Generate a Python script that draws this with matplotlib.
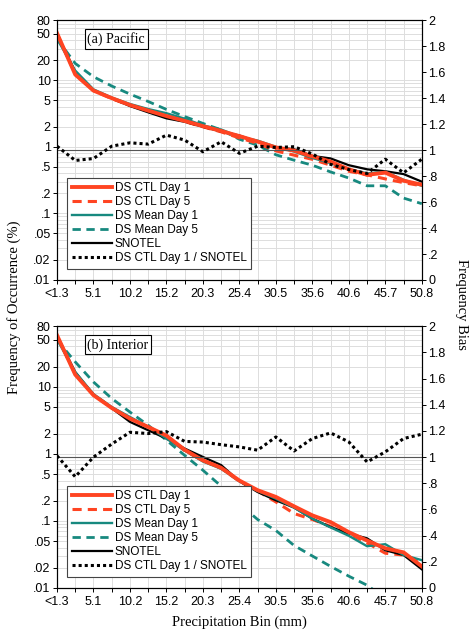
import numpy as np
import matplotlib
matplotlib.use('Agg')
import matplotlib.pyplot as plt

# precipitation bins (0.1 inch steps), labels on every other bin
bin_labels = ['<1.3', '', '5.1', '', '10.2', '', '15.2', '', '20.3', '', '25.4',
              '', '30.5', '', '35.6', '', '40.6', '', '45.7', '', '50.8']

# (a) Pacific, frequency of occurrence (%)
pac_ctl1 = [51, 12.2, 7.0, 5.4, 4.25, 3.5, 2.9, 2.45, 2.05, 1.73, 1.45,
            1.2, 0.98, 0.88, 0.72, 0.6, 0.46, 0.38, 0.41, 0.31, 0.27]
pac_ctl5 = [50, 12.5, 7.0, 5.3, 4.2, 3.45, 2.85, 2.4, 2.0, 1.68, 1.36,
            1.13, 0.87, 0.75, 0.65, 0.53, 0.43, 0.38, 0.33, 0.29, 0.26]
pac_mean1 = [42, 14, 7.3, 5.5, 4.4, 3.7, 3.2, 2.65, 2.1, 1.82, 1.42,
             1.24, 1.0, 0.85, 0.68, 0.57, 0.46, 0.40, 0.42, 0.32, 0.26]
pac_mean5 = [42, 17.9, 11.3, 8.2, 6.2, 4.8, 3.65, 2.85, 2.25, 1.8, 1.3,
             1.06, 0.76, 0.63, 0.53, 0.42, 0.34, 0.26, 0.26, 0.17, 0.14]
pac_snotel = [50, 13.4, 7.1, 5.35, 4.1, 3.3, 2.68, 2.38, 2.0, 1.7, 1.48,
              1.19, 0.98, 0.92, 0.73, 0.67, 0.53, 0.46, 0.43, 0.39, 0.30]
pac_ratio = [1.03, 0.92, 0.935, 1.03, 1.056, 1.046, 1.115, 1.077, 0.987, 1.064, 0.975,
             1.03, 1.02, 1.026, 0.97, 0.89, 0.85, 0.82, 0.93, 0.825, 0.93]

# (b) Interior
int_ctl1 = [58.7, 15.2, 7.5, 4.84, 3.36, 2.52, 1.87, 1.15, 0.80, 0.62, 0.40,
            0.287, 0.228, 0.165, 0.121, 0.096, 0.068, 0.051, 0.039, 0.034, 0.021]
int_ctl5 = [57, 15.5, 7.6, 4.9, 3.3, 2.5, 1.85, 1.12, 0.79, 0.61, 0.39,
            0.28, 0.192, 0.129, 0.105, 0.083, 0.065, 0.047, 0.033, 0.031, 0.023]
int_mean1 = [51, 16.6, 7.8, 5.0, 3.55, 2.52, 1.69, 1.12, 0.77, 0.60, 0.39,
             0.28, 0.215, 0.158, 0.108, 0.08, 0.06, 0.042, 0.045, 0.031, 0.026]
int_mean5 = [50, 23.5, 11.8, 6.7, 4.2, 2.67, 1.6, 0.95, 0.57, 0.33, 0.18,
             0.105, 0.072, 0.043, 0.03, 0.021, 0.015, 0.011, 0.007, 0.005, 0.0035]
int_snotel = [58, 16.6, 7.6, 4.8, 3.0, 2.25, 1.69, 1.2, 0.9, 0.68, 0.39,
              0.27, 0.203, 0.158, 0.108, 0.081, 0.065, 0.055, 0.0365, 0.031, 0.019]
int_ratio = [1.01, 0.85, 1.0, 1.10, 1.19, 1.18, 1.195, 1.12, 1.115, 1.095, 1.078,
             1.053, 1.154, 1.047, 1.142, 1.185, 1.116, 0.963, 1.04, 1.142, 1.175]

left_ticks = [0.01, 0.02, 0.05, 0.1, 0.2, 0.5, 1, 2, 5, 10, 20, 50, 80]
left_labels = ['.01', '.02', '.05', '.1', '.2', '.5', '1', '2', '5', '10', '20', '50', '80']
right_ticks = [0, 0.2, 0.4, 0.6, 0.8, 1, 1.2, 1.4, 1.6, 1.8, 2]
right_labels = ['0', '.2', '.4', '.6', '.8', '1', '1.2', '1.4', '1.6', '1.8', '2']

red = '#ff4422'
teal = '#17897f'
sans = 'Liberation Sans'
serif = 'Liberation Serif'

fig = plt.figure(figsize=(4.75, 6.4), dpi=100)


def panel(rect, title, ctl1, ctl5, mean1, mean5, snotel, ratio):
    ax = fig.add_axes(rect)
    x = np.arange(len(ctl1))
    ax.set_yscale('log')
    ax.grid(True, which='both', axis='y', color='#dddddd', lw=0.7)
    ax.grid(True, which='major', axis='x', color='#dddddd', lw=0.7)
    ax.set_axisbelow(True)

    h = []
    h += ax.plot(x, mean5, color=teal, lw=2.0, ls=(0, (3, 2)), zorder=3, label='DS Mean Day 5')
    h += ax.plot(x, ctl5, color=red, lw=2.2, ls=(0, (3, 2)), zorder=3, label='DS CTL Day 5')
    h += ax.plot(x, snotel, color='black', lw=1.6, zorder=4, label='SNOTEL')
    h += ax.plot(x, mean1, color=teal, lw=1.7, zorder=4, label='DS Mean Day 1')
    h += ax.plot(x, ctl1, color=red, lw=2.8, zorder=5, label='DS CTL Day 1')

    ax.set_xlim(0, 20)
    ax.set_ylim(0.01, 80)
    ax.set_xticks(x)
    ax.set_xticklabels(bin_labels, fontfamily=sans, fontsize=9)
    ax.set_yticks(left_ticks)
    ax.set_yticklabels(left_labels, fontfamily=sans, fontsize=9)
    ax.tick_params(axis='y', which='minor', length=0)
    ax.tick_params(length=3, width=0.7, pad=1.5)
    ax.tick_params(axis='x', pad=3)
    for s in ax.spines.values():
        s.set_linewidth(0.8)

    ax2 = ax.twinx()
    ax2.set_ylim(0, 2)
    ax2.axhline(1, color='#555555', lw=0.8, zorder=1)
    h += ax2.plot(x, ratio, color='black', lw=2.2, ls=(0, (1, 1)), zorder=6,
                  label='DS CTL Day 1 / SNOTEL')
    ax2.set_yticks(right_ticks)
    ax2.set_yticklabels(right_labels, fontfamily=sans, fontsize=9)
    ax2.tick_params(length=3, width=0.7, pad=1.5)

    order = ['DS CTL Day 1', 'DS CTL Day 5', 'DS Mean Day 1', 'DS Mean Day 5',
             'SNOTEL', 'DS CTL Day 1 / SNOTEL']
    hd = {l.get_label(): l for l in h}
    leg = ax2.legend([hd[k] for k in order], order, loc='lower left',
                     bbox_to_anchor=(0.027, 0.042), borderaxespad=0,
                     prop={'family': sans, 'size': 8.5}, handlelength=3.4,
                     handletextpad=0.25, labelspacing=0.17, borderpad=0.4,
                     fancybox=False, framealpha=1, edgecolor='#444444')
    leg.get_frame().set_linewidth(0.8)

    ax.text(0.083, 0.955, title, transform=ax.transAxes, ha='left', va='top',
            fontfamily=serif, fontsize=10,
            bbox=dict(boxstyle='square,pad=0.2', fc='white', ec='black', lw=0.8), zorder=10)
    return ax


panel([0.12, 0.5625, 0.768, 0.406], '(a) Pacific',
      pac_ctl1, pac_ctl5, pac_mean1, pac_mean5, pac_snotel, pac_ratio)
panel([0.12, 0.08125, 0.768, 0.409], '(b) Interior',
      int_ctl1, int_ctl5, int_mean1, int_mean5, int_snotel, int_ratio)

fig.text(0.03, 0.52, 'Frequency of Occurrence (%)', rotation=90, ha='center', va='center',
         fontfamily=serif, fontsize=10.5)
fig.text(0.972, 0.525, 'Frequency Bias', rotation=270, ha='center', va='center',
         fontfamily=serif, fontsize=10.5)
fig.text(0.505, 0.027, 'Precipitation Bin (mm)', ha='center', va='center',
         fontfamily=serif, fontsize=10.5)

fig.savefig('out.png', dpi=100)
